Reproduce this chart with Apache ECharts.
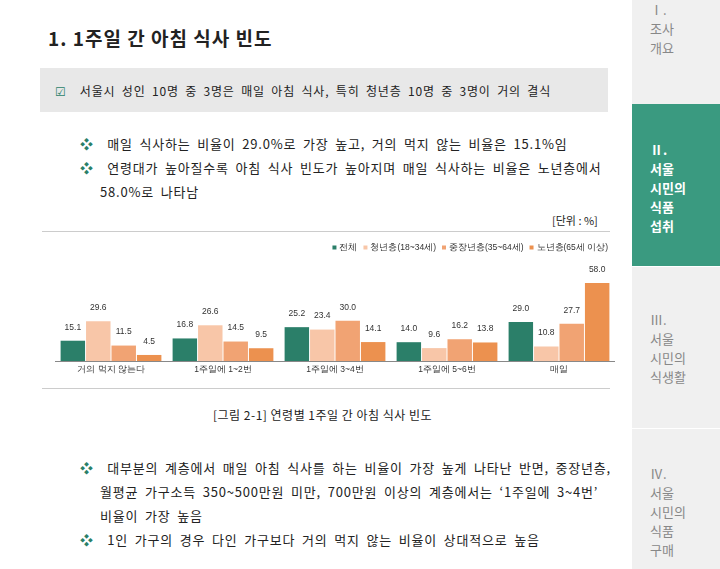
<!DOCTYPE html>
<html><head><meta charset="utf-8">
<script src="https://cdn.jsdelivr.net/npm/echarts@6/dist/echarts.min.js"></script>
<style>
body{margin:0;width:720px;height:569px;position:relative;overflow:hidden;background:#fff;font-family:"Noto Sans CJK KR","Noto Sans",sans-serif;color:#222}
.a{position:absolute;white-space:nowrap}
.side{position:absolute;left:632px;top:0;width:88px;height:569px;background:#f0f0f0}
.sb{position:absolute;left:650px;font-size:13px;line-height:19px;color:#888}
.t{font-size:13px;letter-spacing:0.8px;word-spacing:3px}
</style></head><body>
<div class="a" style="left:48px;top:24px;font-size:19px;font-weight:bold;letter-spacing:1px">1. 1주일 간 아침 식사 빈도</div>
<div class="a" style="left:40px;top:68px;width:568px;height:44px;background:#e8e8e8"></div>
<div class="a t" style="left:55px;top:82px;font-size:12px"><span style="color:#2a7f68">☑</span>&nbsp; 서울시 성인 10명 중 3명은 매일 아침 식사, 특히 청년층 10명 중 3명이 거의 결식</div>
<div class="a t" style="left:80px;top:134px"><span style="color:#2a7f68">❖</span>&nbsp; 매일 식사하는 비율이 29.0%로 가장 높고, 거의 먹지 않는 비율은 15.1%임</div>
<div class="a t" style="left:80px;top:158px"><span style="color:#2a7f68">❖</span>&nbsp; 연령대가 높아질수록 아침 식사 빈도가 높아지며 매일 식사하는 비율은 노년층에서</div>
<div class="a t" style="left:100px;top:182px">58.0%로 나타남</div>
<div class="a" style="left:552px;top:212px;font-size:11px">[단위 : %]</div>
<div class="a" style="left:42px;top:231px;width:568px;border-top:1px solid #ccc"></div>
<div id="c" class="a" style="left:55px;top:238px;width:560px;height:140px"></div>
<div class="a" style="left:42px;top:388px;width:568px;border-top:1px solid #ccc"></div>
<div class="a" style="left:213px;top:406px;font-size:12px;letter-spacing:0.5px">[그림 2-1] 연령별 1주일 간 아침 식사 빈도</div>
<div class="a t" style="left:80px;top:458px"><span style="color:#2a7f68">❖</span>&nbsp; 대부분의 계층에서 매일 아침 식사를 하는 비율이 가장 높게 나타난 반면, 중장년층,</div>
<div class="a t" style="left:100px;top:482px">월평균 가구소득 350~500만원 미만, 700만원 이상의 계층에서는 ‘1주일에 3~4번’</div>
<div class="a t" style="left:100px;top:506px">비율이 가장 높음</div>
<div class="a t" style="left:80px;top:530px"><span style="color:#2a7f68">❖</span>&nbsp; 1인 가구의 경우 다인 가구보다 거의 먹지 않는 비율이 상대적으로 높음</div>
<div class="side"></div>
<div class="a" style="left:632px;top:104px;width:88px;height:162px;background:#3a9a80"></div>
<div class="a" style="left:632px;top:266px;width:88px;border-top:1px solid #fff"></div>
<div class="a" style="left:632px;top:428px;width:88px;border-top:1px solid #fff"></div>
<div class="sb" style="top:0px">Ⅰ.<br>조사<br>개요</div>
<div class="sb" style="top:140px;color:#fff;font-weight:bold">Ⅱ.<br>서울<br>시민의<br>식품<br>섭취</div>
<div class="sb" style="top:310px">Ⅲ.<br>서울<br>시민의<br>식생활</div>
<div class="sb" style="top:464px">Ⅳ.<br>서울<br>시민의<br>식품<br>구매</div>
<script>
const categories=["거의 먹지 않는다","1주일에 1~2번","1주일에 3~4번","1주일에 5~6번","매일"];
const seriesNames=["전체","청년층(18~34세)","중장년층(35~64세)","노년층(65세 이상)"];
const total=[15.1,16.8,25.2,14.0,29.0];
const youth=[29.6,26.6,23.4,9.6,10.8];
const middle=[11.5,14.5,30.0,16.2,27.7];
const senior=[4.5,9.5,14.1,13.8,58.0];
const colors=["#2b7f69","#f8c6a8","#f1a373","#ec914f"];
const ch=echarts.init(document.getElementById('c'));
ch.setOption({
 animation:false,
 legend:{right:2,top:0,itemWidth:4,itemHeight:4,itemGap:6,icon:'rect',textStyle:{fontSize:8.5,color:'#333',padding:[0,0,0,-2]}},
 grid:{left:0,right:0,top:29,bottom:17},
 xAxis:{type:'category',data:categories,axisTick:{show:false},axisLine:{lineStyle:{color:'#888'}},axisLabel:{fontSize:8.5,color:'#333',margin:4}},
 yAxis:{type:'value',min:0,max:70,show:false,splitLine:{show:false}},
 series:[total,youth,middle,senior].map((d,i)=>({name:seriesNames[i],type:'bar',data:d,barGap:'4%',barCategoryGap:'10%',itemStyle:{color:colors[i]},
  label:{show:true,position:'top',distance:9,fontSize:8.5,color:'#333',formatter:p=>p.value.toFixed(1)}}))
});
</script></body></html>
